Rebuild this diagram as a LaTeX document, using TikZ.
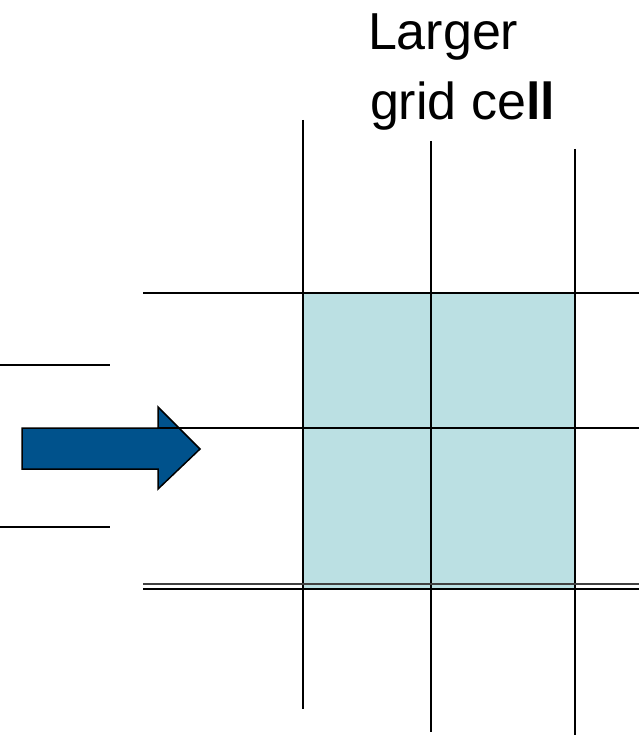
\documentclass[tikz,border=0pt]{standalone}
\usepackage{fontspec}
\setmainfont{Liberation Sans}
\definecolor{arrowblue}{RGB}{0,82,140}
\definecolor{cellfill}{RGB}{187,224,227}

\begin{document}
\begin{tikzpicture}[x=1pt,y=-1pt,line width=2pt]
\useasboundingbox (0,0) rectangle (639,735);
% shaded larger cell
\fill[cellfill] (303,293) rectangle (575,589);
% vertical grid lines
\draw (303,120) -- (303,709);
\draw (431,141) -- (431,732);
\draw (575,149) -- (575,735);
% horizontal grid lines
\draw (143,293) -- (639,293);
\draw [line width=1.2pt, black!75] (143,584) -- (639,584);
\draw (143,589) -- (639,589);
% left lines
\draw (0,365) -- (110,365);
\draw (0,527) -- (110,527);
% block arrow
\draw[fill=arrowblue, line width=1.5pt] (22,428) -- (158,428) -- (158,407) -- (200,449) -- (158,489) -- (158,469) -- (22,469) -- cycle;
\draw (158,428) -- (639,428);
% label
\node [anchor=base west, inner sep=0pt, font=\fontsize{52}{62}\selectfont] (line1) at (367,50) {Larger};
\node [anchor=base west, inner sep=0pt, font=\fontsize{52}{62}\selectfont] (line2) at (369,120) {grid ce\textbf{ll}};
\end{tikzpicture}
\end{document}
